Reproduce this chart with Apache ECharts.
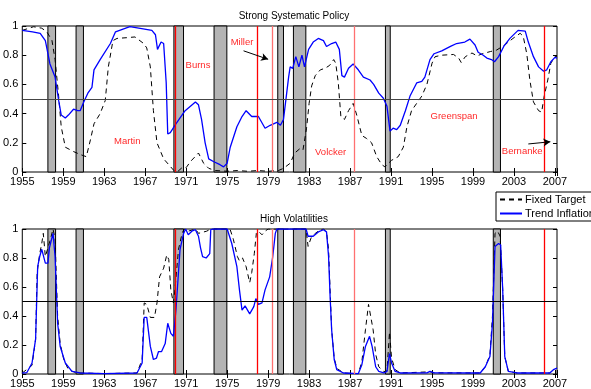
<!DOCTYPE html>
<html>
<head>
<meta charset="utf-8">
<script src="https://cdn.jsdelivr.net/npm/echarts@6/dist/echarts.min.js"></script>
<style>
  html, body { margin: 0; padding: 0; background: #fff; }
  #chart { width: 591px; height: 389px; }
</style>
</head>
<body>
<div id="chart"></div>
<script>
// [year, probability]
const topFixed = [
  [1955.0,0.97],[1956.1,0.995],[1956.9,0.985],[1957.4,0.96],[1957.9,0.90],[1958.2,0.77],[1958.55,0.52],
  [1958.8,0.31],[1959.2,0.17],[1960.0,0.14],[1960.65,0.12],[1961.25,0.105],[1961.65,0.22],[1962.0,0.33],
  [1962.6,0.40],[1963.1,0.49],[1963.4,0.72],[1963.85,0.90],[1964.25,0.915],[1965.2,0.92],[1966.0,0.925],
  [1966.85,0.88],[1967.15,0.85],[1967.5,0.72],[1967.8,0.42],[1968.15,0.20],[1968.8,0.09],[1969.3,0.05],
  [1969.8,0.01],[1970.2,0.005],[1970.6,0.03],[1971.0,0.03],[1971.4,0.07],[1972.2,0.13],[1972.7,0.06],
  [1973.2,0.025],[1973.85,0.01],[1975.0,0.005],[1976.0,0.01],[1977.0,0.005],[1978.0,0.01],[1979.0,0.005],
  [1980.0,0.01],[1980.5,0.025],[1981.15,0.06],[1981.6,0.13],[1982.1,0.16],[1982.4,0.15],[1982.75,0.30],
  [1983.0,0.47],[1983.25,0.59],[1983.6,0.66],[1984.1,0.70],[1984.55,0.71],[1985.0,0.73],[1985.4,0.77],
  [1985.6,0.745],[1985.85,0.61],[1986.1,0.38],[1986.45,0.36],[1986.85,0.42],[1987.3,0.47],[1987.65,0.39],
  [1988.15,0.25],[1988.6,0.23],[1989.1,0.20],[1989.6,0.105],[1990.1,0.05],[1990.4,0.035],[1990.75,0.06],
  [1991.05,0.08],[1991.7,0.105],[1992.2,0.17],[1992.55,0.31],[1993.0,0.42],[1993.5,0.47],[1994.0,0.52],
  [1994.5,0.60],[1995.0,0.745],[1995.3,0.79],[1995.95,0.80],[1997.1,0.805],[1997.6,0.78],[1997.85,0.75],
  [1998.25,0.79],[1998.9,0.815],[1999.4,0.795],[1999.9,0.81],[2000.7,0.825],[2001.3,0.835],[2002.1,0.87],
  [2002.9,0.915],[2003.6,0.95],[2003.9,0.93],[2004.25,0.81],[2004.55,0.63],[2004.9,0.48],[2005.4,0.42],
  [2005.7,0.41],[2005.95,0.52],[2006.3,0.63],[2006.6,0.745],[2007.0,0.79],[2007.2,0.79]
];
const topTrend = [
  [1955.0,0.97],[1956.0,0.96],[1956.75,0.95],[1957.25,0.90],[1957.7,0.74],[1958.2,0.65],[1958.55,0.49],
  [1958.8,0.39],[1959.2,0.37],[1959.5,0.39],[1960.0,0.43],[1960.4,0.42],[1960.65,0.42],[1961.0,0.48],
  [1961.4,0.54],[1961.8,0.58],[1962.0,0.70],[1962.6,0.77],[1963.6,0.88],[1964.1,0.96],[1964.9,0.98],
  [1965.5,0.995],[1966.8,0.98],[1967.65,0.97],[1968.0,0.94],[1968.2,0.84],[1968.55,0.89],[1968.8,0.88],
  [1969.05,0.61],[1969.2,0.26],[1969.45,0.27],[1969.9,0.32],[1970.4,0.37],[1970.9,0.42],[1971.9,0.48],
  [1972.2,0.46],[1972.5,0.36],[1972.85,0.20],[1973.2,0.09],[1973.7,0.07],[1974.3,0.05],[1974.65,0.035],
  [1975.0,0.06],[1975.3,0.17],[1975.95,0.31],[1976.45,0.38],[1976.85,0.42],[1977.4,0.38],[1978.05,0.38],
  [1978.7,0.30],[1979.2,0.32],[1979.85,0.34],[1980.2,0.32],[1980.5,0.36],[1981.0,0.65],[1981.15,0.72],
  [1981.4,0.71],[1981.7,0.79],[1982.0,0.72],[1982.3,0.80],[1982.55,0.72],[1982.95,0.84],[1983.4,0.89],
  [1983.9,0.915],[1984.4,0.90],[1984.7,0.86],[1985.2,0.88],[1985.6,0.89],[1985.95,0.84],[1986.2,0.66],
  [1986.45,0.65],[1986.85,0.71],[1987.3,0.74],[1987.8,0.70],[1988.3,0.65],[1988.95,0.63],[1989.3,0.60],
  [1989.8,0.54],[1990.25,0.505],[1990.6,0.45],[1990.9,0.28],[1991.2,0.30],[1991.55,0.29],[1991.9,0.32],
  [1992.4,0.42],[1992.85,0.52],[1993.5,0.61],[1994.0,0.62],[1994.3,0.65],[1994.8,0.77],[1995.2,0.81],
  [1995.95,0.83],[1996.8,0.86],[1997.4,0.88],[1998.2,0.89],[1998.7,0.91],[1999.2,0.87],[1999.5,0.82],
  [2000.0,0.80],[2000.35,0.78],[2000.8,0.77],[2001.1,0.755],[2001.5,0.79],[2002.0,0.86],[2002.6,0.915],
  [2003.4,0.97],[2004.1,0.965],[2004.4,0.89],[2004.9,0.79],[2005.4,0.72],[2005.9,0.69],[2006.2,0.70],
  [2006.6,0.755],[2007.0,0.785],[2007.2,0.78]
];
const botFixed = [
  [1955.0,0.007],[1955.95,0.06],[1956.3,0.24],[1956.45,0.70],[1956.7,0.83],[1956.9,0.90],[1957.05,0.97],
  [1957.25,0.81],[1957.4,0.80],[1957.75,0.93],[1958.0,1.0],[1958.2,0.93],[1958.45,0.40],[1958.7,0.21],
  [1959.05,0.10],[1959.5,0.03],[1960.2,0.01],[1960.65,0.007],[1963.0,0.003],[1966.2,0.007],[1966.7,0.10],
  [1966.9,0.49],[1967.15,0.48],[1967.5,0.39],[1967.9,0.39],[1968.15,0.49],[1968.4,0.67],[1968.8,0.73],
  [1969.1,0.82],[1969.3,0.79],[1969.5,0.58],[1969.75,0.49],[1969.9,0.58],[1970.25,0.86],[1970.6,0.97],
  [1970.8,1.0],[1971.2,0.985],[1971.9,1.0],[1972.2,0.97],[1973.0,0.985],[1973.4,1.0],[1975.0,1.0],
  [1975.3,0.995],[1975.6,0.93],[1976.0,0.81],[1976.2,0.78],[1976.5,0.80],[1976.85,0.74],[1977.2,0.63],
  [1977.4,0.70],[1977.65,0.83],[1977.85,0.97],[1978.05,0.985],[1978.4,0.96],[1978.7,0.985],[1979.0,1.0],
  [1982.7,1.0],[1982.9,0.88],[1983.2,0.94],[1983.6,0.97],[1984.1,0.995],[1984.4,1.0],[1984.7,0.98],
  [1984.9,0.86],[1985.05,0.58],[1985.2,0.305],[1985.45,0.11],[1985.7,0.04],[1986.35,0.007],[1987.8,0.002],
  [1988.15,0.085],[1988.5,0.305],[1988.8,0.48],[1988.95,0.47],[1989.25,0.305],[1989.5,0.135],[1989.8,0.05],
  [1990.3,0.016],[1990.6,0.02],[1990.85,0.29],[1991.05,0.11],[1991.4,0.03],[1991.9,0.007],[1994.8,0.015],
  [1995.2,0.008],[1999.7,0.007],[2000.2,0.05],[2000.65,0.13],[2000.9,0.40],[2001.15,0.97],[2001.4,0.985],
  [2001.65,0.95],[2001.9,0.58],[2002.1,0.12],[2002.45,0.018],[2003.3,0.007],[2006.5,0.007],[2006.85,0.03],
  [2007.2,0.04]
];
const botTrend = [
  [1955.0,0.007],[1955.45,0.01],[1955.95,0.076],[1956.3,0.24],[1956.5,0.74],[1956.7,0.81],[1956.9,0.86],
  [1957.25,0.765],[1957.5,0.765],[1957.65,0.87],[1958.0,0.97],[1958.2,0.81],[1958.45,0.35],[1958.7,0.19],
  [1959.2,0.076],[1959.85,0.018],[1960.65,0.007],[1963.0,0.003],[1966.2,0.007],[1966.7,0.076],[1966.9,0.39],
  [1967.15,0.39],[1967.5,0.19],[1967.8,0.10],[1968.1,0.11],[1968.3,0.155],[1968.6,0.155],[1968.95,0.21],
  [1969.2,0.35],[1969.5,0.28],[1969.75,0.26],[1970.0,0.44],[1970.4,0.86],[1970.75,0.97],[1970.95,1.0],
  [1971.2,0.96],[1971.55,0.985],[1971.9,0.995],[1972.2,0.95],[1972.4,0.87],[1972.6,0.81],[1972.95,0.80],
  [1973.3,0.83],[1973.4,0.995],[1973.6,1.0],[1975.0,1.0],[1975.45,0.90],[1975.95,0.74],[1976.2,0.58],
  [1976.45,0.44],[1976.75,0.47],[1977.2,0.415],[1977.6,0.465],[1977.8,0.52],[1978.05,0.48],[1978.4,0.49],
  [1978.7,0.58],[1979.15,0.67],[1979.45,0.81],[1979.7,0.97],[1979.85,1.0],[1982.7,1.0],[1982.9,0.95],
  [1983.4,0.95],[1983.9,0.98],[1984.4,0.995],[1984.7,0.98],[1984.9,0.81],[1985.05,0.535],[1985.2,0.305],
  [1985.45,0.10],[1985.7,0.03],[1986.35,0.007],[1987.8,0.002],[1988.15,0.064],[1988.5,0.19],[1988.9,0.26],
  [1989.15,0.19],[1989.5,0.05],[1989.8,0.018],[1990.3,0.007],[1990.6,0.018],[1990.85,0.14],[1991.05,0.076],
  [1991.4,0.018],[1991.9,0.007],[1994.5,0.008],[1994.8,0.018],[1995.2,0.008],[1999.7,0.007],[2000.2,0.05],
  [2000.65,0.12],[2000.9,0.35],[2001.15,0.88],[2001.5,0.90],[2001.7,0.89],[2001.9,0.58],[2002.1,0.12],
  [2002.45,0.018],[2003.3,0.007],[2006.5,0.007],[2006.85,0.03],[2007.2,0.04]
];

const recessions = [[1957.5,1958.25],[1960.25,1960.97],[1969.8,1970.74],[1973.72,1974.97],
  [1979.94,1980.5],[1981.47,1982.68],[1990.45,1990.92],[2000.98,2001.68]];
const chairLines = [1969.93, 1977.93, 1979.43, 1987.43, 2005.94];
const chairColors = ['#ff0000','#ff0000','#ff7070','#ff7070','#ff0000'];
const chairLabels = [
  ['Martin',1965.25,0.21],['Burns',1972.15,0.73],['Miller',1976.45,0.886],
  ['Volcker',1985.1,0.132],['Greenspan',1997.15,0.379],['Bernanke',2003.8,0.139]
];
const arrows = [[[1976.6,0.83],[1979.0,0.772]],[[2004.4,0.192],[2006.55,0.207]]];

const font = 'Liberation Sans';
const xMin = 1955, xMax = 2007.2;

const chart = echarts.init(document.getElementById('chart'), null, {renderer: 'canvas'});

const xLabel = v => (Math.abs((v - 1955) % 4) < 1e-6 ? String(Math.round(v)) : '');

function xAx(grid, pos, labels) {
  return {
    type: 'value', gridIndex: grid, position: pos, min: xMin, max: xMax, interval: 4,
    axisLine: {show: false}, splitLine: {show: false},
    axisTick: {show: true, inside: true, length: 4, lineStyle: {color: '#000'}},
    axisLabel: {show: labels, formatter: xLabel, color: '#000', fontSize: 11, fontFamily: font, margin: 4,
      showMinLabel: true, showMaxLabel: true}
  };
}
function yAx(grid, pos, labels) {
  return {
    type: 'value', gridIndex: grid, position: pos, min: 0, max: 1, interval: 0.2,
    axisLine: {show: false}, splitLine: {show: false},
    axisTick: {show: true, inside: true, length: 4, lineStyle: {color: '#000'}},
    axisLabel: {show: labels, color: '#000', fontSize: 11, fontFamily: font, margin: 4,
      formatter: v => (v === 0 || v === 1 ? String(v) : v.toFixed(1))}
  };
}

const recArea = recessions.map(r => [{xAxis: r[0]}, {xAxis: r[1]}]);
function vLines(panelRefColor) {
  const d = chairLines.map((x, i) => ({xAxis: x, lineStyle: {color: chairColors[i], width: 1.3, type: 'solid'}}));
  d.push({yAxis: 0.5, lineStyle: {color: panelRefColor, width: 1.2, type: 'solid'}});
  return d;
}

const trendStyle = {color: '#0000ff', width: 1.3, type: 'solid'};
const fixedStyle = {color: '#000', width: 1, type: [5, 4]};

const option = {
  animation: false,
  textStyle: {fontFamily: font},
  title: [
    {text: 'Strong Systematic Policy', left: 289, top: 6, textAlign: 'center',
      textStyle: {fontSize: 10, fontWeight: 'normal', color: '#000', fontFamily: font}},
    {text: 'High Volatilities', left: 289, top: 209, textAlign: 'center',
      textStyle: {fontSize: 10, fontWeight: 'normal', color: '#000', fontFamily: font}}
  ],
  legend: {
    data: ['Fixed Target', 'Trend Inflation'],
    orient: 'vertical', left: 496, top: 192,
    borderColor: '#000', borderWidth: 1, borderRadius: 0, padding: [2, 6, 2, 3],
    itemWidth: 22, itemHeight: 10, itemGap: 3,
    itemStyle: {color: 'transparent', borderWidth: 0, opacity: 0},
    textStyle: {fontSize: 11, color: '#000', fontFamily: font, padding: [0, 0, 0, -2]}
  },
  grid: [
    {left: 22, top: 26, width: 535, height: 146, show: true, borderColor: '#000', borderWidth: 1, backgroundColor: 'transparent'},
    {left: 22, top: 229, width: 535, height: 145, show: true, borderColor: '#000', borderWidth: 1, backgroundColor: 'transparent'}
  ],
  xAxis: [xAx(0, 'bottom', true), xAx(0, 'top', false), xAx(1, 'bottom', true), xAx(1, 'top', false)],
  yAxis: [yAx(0, 'left', true), yAx(0, 'right', false), yAx(1, 'left', true), yAx(1, 'right', false)],
  series: [
    {
      name: 'Fixed Target', type: 'line', xAxisIndex: 0, yAxisIndex: 0, data: topFixed,
      symbol: 'none', lineStyle: fixedStyle, itemStyle: {color: '#000'}, z: 3, silent: true,
      markArea: {silent: true, itemStyle: {color: '#b4b4b4', borderColor: '#000', borderWidth: 1}, data: recArea},
      markLine: {silent: true, symbol: 'none', label: {show: false}, data: vLines('#444')}
    },
    {
      name: 'Trend Inflation', type: 'line', xAxisIndex: 0, yAxisIndex: 0, data: topTrend,
      symbol: 'none', lineStyle: trendStyle, itemStyle: {color: '#0000ff'}, z: 4, silent: true,
      markPoint: {
        silent: true, symbol: 'circle', symbolSize: 0,
        label: {show: true, position: 'inside', color: '#ff2a2a', fontSize: 9.5, fontFamily: font, formatter: p => p.name},
        data: chairLabels.map(c => ({name: c[0], coord: [c[1], c[2]]}))
      },
      markLine: {
        silent: true, symbol: ['none', 'arrow'], symbolSize: [6, 7], label: {show: false},
        lineStyle: {color: '#000', width: 1, type: 'solid'},
        data: arrows.map(a => [{coord: a[0]}, {coord: a[1]}])
      }
    },
    {
      name: 'Fixed Target', type: 'line', xAxisIndex: 2, yAxisIndex: 2, data: botFixed,
      symbol: 'none', lineStyle: fixedStyle, itemStyle: {color: '#000'}, z: 3, silent: true,
      markArea: {silent: true, itemStyle: {color: '#b4b4b4', borderColor: '#000', borderWidth: 1}, data: recArea},
      markLine: {silent: true, symbol: 'none', label: {show: false}, data: vLines('#000')}
    },
    {
      name: 'Trend Inflation', type: 'line', xAxisIndex: 2, yAxisIndex: 2, data: botTrend,
      symbol: 'none', lineStyle: trendStyle, itemStyle: {color: '#0000ff'}, z: 4, silent: true
    }
  ]
};

chart.setOption(option);
</script>
</body>
</html>
